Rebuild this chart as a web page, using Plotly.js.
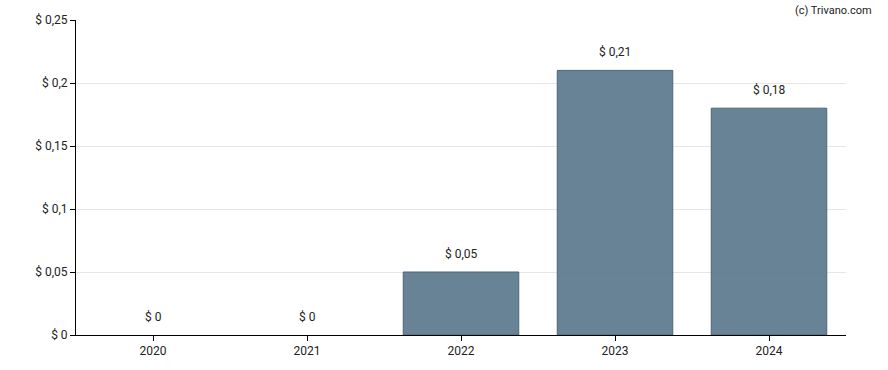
<!DOCTYPE html>
<html>
<head>
<meta charset="utf-8">
<script src="https://cdn.plot.ly/plotly-3.0.1.min.js"></script>
<style>html,body{margin:0;padding:0;background:#fff;}#chart{width:888px;height:370px;}</style>
</head>
<body>
<div id="chart"></div>
<script>
var years = ['2020', '2021', '2022', '2023', '2024'];
var values = [0, 0, 0.05, 0.21, 0.18];
var barLabels = ['$ 0', '$ 0', '$ 0,05', '$ 0,21', '$ 0,18'];
var yTickVals = [0, 0.05, 0.1, 0.15, 0.2, 0.25];
var yTickText = ['$ 0', '$ 0,05', '$ 0,1', '$ 0,15', '$ 0,2', '$ 0,25'];

var trace = {
  type: 'bar',
  x: years,
  y: values,
  marker: {
    color: 'rgba(91,120,141,0.92)',
    line: {color: '#4a6479', width: values.map(function(v){ return v > 0 ? 1 : 0; })}
  },
  hoverinfo: 'none'
};

var labelAnnotations = years.map(function(yr, i) {
  return {
    x: i, y: values[i], xref: 'x', yref: 'y',
    text: barLabels[i], showarrow: false,
    xanchor: 'center', yanchor: 'middle', yshift: 18,
    font: {family: 'Roboto, sans-serif', size: 12, color: '#222'}
  };
});

var layout = {
  width: 888, height: 370,
  margin: {l: 76, r: 42, t: 20, b: 35},
  paper_bgcolor: '#fff', plot_bgcolor: '#fff',
  bargap: 0.25,
  showlegend: false,
  font: {family: 'Roboto, sans-serif', size: 12, color: '#222'},
  xaxis: {
    type: 'category',
    range: [-0.5, years.length - 0.5],
    showline: true, linecolor: '#000', linewidth: 1,
    ticks: 'outside', ticklen: 5, tickcolor: '#000',
    showgrid: false,
    tickfont: {family: 'Roboto, sans-serif', size: 12, color: '#222'}
  },
  yaxis: {
    range: [0, 0.25],
    tickvals: yTickVals, ticktext: yTickText,
    showline: true, linecolor: '#000', linewidth: 1,
    ticks: 'outside', ticklen: 5, tickcolor: '#000',
    gridcolor: '#e6e6e6', zeroline: false,
    tickfont: {family: 'Roboto, sans-serif', size: 12, color: '#222'}
  },
  annotations: labelAnnotations.concat([{
    text: '(c) Trivano.com', xref: 'paper', yref: 'paper',
    x: 1.0, y: 1.0, xanchor: 'right', yanchor: 'bottom', xshift: 28, yshift: 1,
    showarrow: false, font: {family: 'Roboto, sans-serif', size: 11, color: '#222'}
  }])
};

Plotly.newPlot('chart', [trace], layout, {staticPlot: true, displayModeBar: false});
</script>
</body>
</html>
